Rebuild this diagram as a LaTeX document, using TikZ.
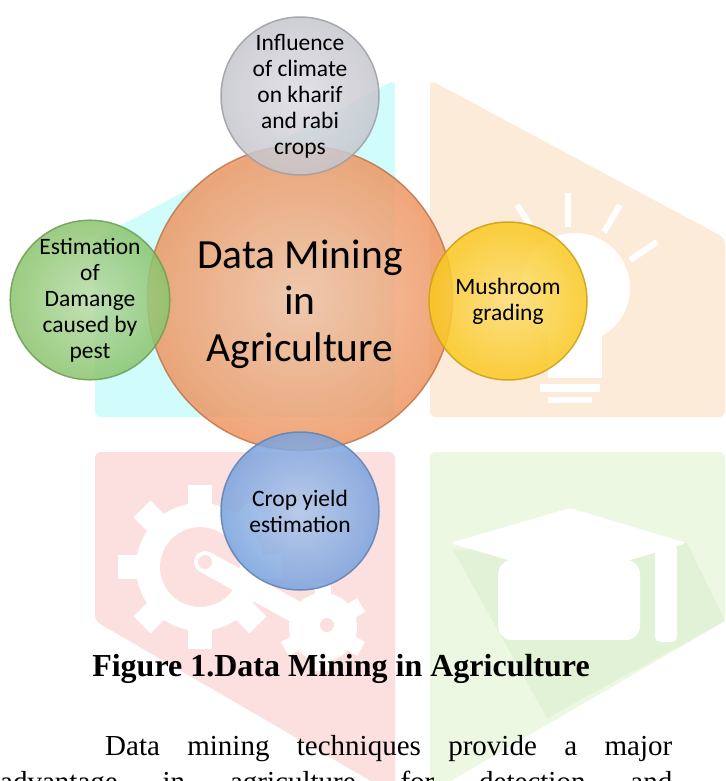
\documentclass[tikz,border=0pt]{standalone}
\usepackage{fontspec}
\setmainfont{Liberation Serif}
\newfontfamily\calibri{Carlito}

% bubble colours
\definecolor{hubcol}{RGB}{238,150,98}
\definecolor{climcol}{RGB}{198,198,206}
\definecolor{pestcol}{RGB}{138,196,108}
\definecolor{mushcol}{RGB}{250,200,30}
\definecolor{yieldcol}{RGB}{120,162,222}
% background tints
\definecolor{tintcyan}{RGB}{208,252,252}
\definecolor{tintorange}{RGB}{253,235,218}
\definecolor{tintred}{RGB}{252,224,224}
\definecolor{tintgreen}{RGB}{236,248,226}
\definecolor{shadegreen}{RGB}{226,242,214}

\tikzset{
  bubble/.style={circle, draw=#1!80!black, line width=1.5pt,
    inner color=#1!60!white, outer color=#1, opacity=0.85, text opacity=1,
    align=center, inner sep=0pt, minimum size=158pt,
    font=\calibri\fontsize{23.5}{26}\selectfont},
  hub/.style={bubble=hubcol, minimum size=305pt},
  hubtitle/.style={align=center, font=\calibri\fontsize{41.5}{46.5}\selectfont},
  icon/.style={white, line width=6pt},
  para/.style={anchor=base west, inner sep=0pt, font=\fontsize{29}{36}\selectfont},
}

\begin{document}
\begin{tikzpicture}[x=1pt, y=-1pt]
\useasboundingbox (0,0) rectangle (725,781);

% background tiles
\fill[tintcyan, rounded corners=6pt] (95,239) -- (395,80) -- (395,417) -- (95,417) -- cycle;
\fill[tintorange, rounded corners=6pt] (430,80) -- (725,238) -- (725,417) -- (430,417) -- cycle;
\fill[tintred, rounded corners=6pt] (95,452) -- (395,452) -- (395,795) -- (95,621) -- cycle;
\fill[tintgreen, rounded corners=6pt] (430,452) -- (725,452) -- (725,621) -- (430,793) -- cycle;
\fill[shadegreen] (453,550) -- (687,543) -- (725,621) -- (547,718) -- cycle;

% lamp
\fill[white] (575,288) circle (55);
\fill[white] (548,320) rectangle (602,378);
\fill[white] (540,384) rectangle (600,392);
\fill[white] (548,397) rectangle (592,403);
\draw[icon] (568,193) -- (568,227);
\draw[icon] (517,205) -- (530,225);
\draw[icon] (620,205) -- (604,232);
\draw[icon] (657,242) -- (630,260);

% gears and key
\fill[white, even odd rule] (200,567) circle (64) (200,567) circle (40);
\foreach \a in {0,45,...,315}
  \fill[white, rotate around={\a:(200,567)}] (188,485) rectangle (212,505);
\draw[white, line width=22pt, line cap=round] (205,562) -- (323,627);
\fill[white] (323,627) circle (34);
\foreach \a in {0,60,...,300}
  \fill[white, rotate around={\a:(323,627)}] (315,583) rectangle (331,597);
\fill[tintred] (205,562) circle (7) (327,625) circle (7);

% cap
\fill[white, rounded corners=4pt] (450,543) -- (570,508) -- (687,543) -- (570,578) -- cycle;
\fill[white, rounded corners=14pt] (498,560) -- (498,640) -- (640,640) -- (640,560) -- cycle;
\fill[white, rounded corners=5pt] (655,545) rectangle (677,642);

% bubbles
\node[hub] (hub) at (300,298) {};
\node[hubtitle] (title) at ([yshift=-6pt]hub.center) {Data Mining\\in\\Agriculture};
\node[bubble=climcol] (climate) at (300,96) {Influence\\of climate\\on kharif\\and rabi\\crops};
\node[bubble=pestcol] (pest) at (90,300) {Estimation\\of\\Damange\\caused by\\pest};
\node[bubble=mushcol] (mushroom) at (508,301) {Mushroom\\grading};
\node[bubble=yieldcol] (yield) at (300,511) {Crop yield\\estimation};

% caption and running text
\node[anchor=base, font=\bfseries\fontsize{32}{36}\selectfont] (caption) at (341,676) {Figure 1.Data Mining in Agriculture};
\node[para] (line1) at (105,755) {\makebox[567pt][s]{Data mining techniques provide a major}};
\node[para] (line2) at (0,791) {\makebox[672pt][s]{advantage in agriculture for detection and}};
\end{tikzpicture}
\end{document}
